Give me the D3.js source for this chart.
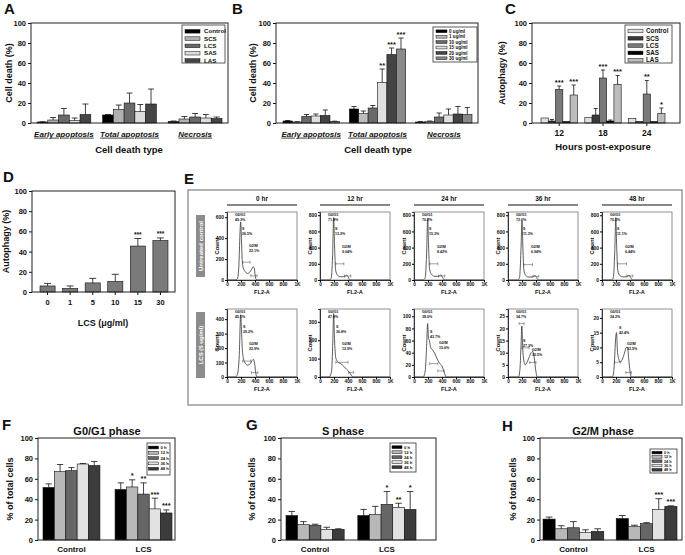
<!DOCTYPE html>
<html lang="en">
<head>
<meta charset="UTF-8">
<title>Cell death, autophagy and cell cycle</title>
<script src="https://d3js.org/d3.v7.min.js"></script>
<style>
  body { margin: 0; background: #fff; }
  svg { display: block; font-family: "Liberation Sans", Arial, sans-serif; font-weight: bold; }
</style>
</head>
<body>
<script>
// ---------- data ----------
const deathTypes = ["Early apoptosis", "Total apoptosis", "Necrosis"];

const extractsA = ["Control", "SCS", "LCS", "SAS", "LAS"];
const meanA = [[1, 3, 8, 2.5, 8.5], [8, 13.5, 20, 11.5, 19], [1.5, 4, 6, 5, 4.5]];
const sdA = [[0.3, 2.5, 6.5, 2.5, 10.5], [0.5, 4.5, 10, 7, 15], [0.5, 2.5, 3.5, 3.5, 1.5]];

const dosesB = ["0 ug/ml", "1 ug/ml", "10 ug/ml", "15 ug/ml", "20 ug/ml", "30 ug/ml"];
const meanB = [[2, 1, 6.5, 7, 7.5, 1.5], [14, 9.5, 15, 40.5, 68.5, 74], [1, 1.5, 6, 8, 9, 8.5]];
const sdB = [[0.5, 0.3, 2, 2, 5.5, 0.3], [2.5, 2.5, 2.5, 13.5, 6.5, 11], [0.5, 0.5, 4, 6, 7.5, 7]];
const starsB = [["", "", "", "", "", ""], ["", "", "", "**", "***", "***"], ["", "", "", "", "", ""]];

const hoursC = ["12", "18", "24"];
const extractsC = ["Control", "SCS", "LCS", "SAS", "LAS"];
const meanC = [[5, 2, 33.5, 1.5, 28], [5.5, 8, 45, 2, 38.5], [4.5, 1.5, 29, 1.5, 9.5]];
const sdC = [[0, 1.5, 3.5, 0, 10], [0, 6.5, 8, 1, 9], [0, 0, 13.5, 0, 5.5]];
const starsC = [["", "", "***", "", "***"], ["", "", "***", "", "***"], ["", "", "**", "", "*"]];

const dosesD = ["0", "1", "5", "10", "15", "30"];
const meanD = [6, 3.5, 9, 10.5, 45.5, 51];
const sdD = [2.5, 2.5, 4.5, 7, 7.5, 2.5];
const starsD = ["", "", "", "", "***", "***"];

const hrLabels = ["0 hr", "12 hr", "24 hr", "36 hr", "48 hr"];
const rowLabels = ["Untreated control", "LCS (5 ug/ml)"];
// FL2-A, count
const curvesUntreated = [
  [[0,0],[120,0],[150,15],[170,140],[185,440],[195,555],[205,420],[215,220],[230,120],[260,80],[290,62],[320,72],[350,100],[372,125],[388,118],[400,60],[412,12],[430,0],[1000,0]],
  [[0,0],[130,0],[160,25],[180,300],[195,770],[208,420],[222,130],[250,60],[300,40],[350,42],[380,60],[400,42],[420,6],[440,0],[1000,0]],
  [[0,0],[130,0],[160,30],[180,320],[195,760],[208,430],[222,140],[250,70],[300,45],[350,45],[385,62],[405,38],[425,6],[445,0],[1000,0]],
  [[0,0],[140,0],[165,30],[185,360],[200,730],[213,390],[228,115],[260,50],[300,35],[350,38],[385,55],[405,40],[425,6],[445,0],[1000,0]],
  [[0,0],[135,0],[162,30],[182,340],[197,770],[210,410],[225,120],[255,55],[300,38],[350,40],[385,58],[405,40],[425,6],[445,0],[1000,0]]
];
const curvesLcs = [
  [[0,0],[120,0],[150,20],[175,150],[195,430],[208,310],[222,170],[250,105],[290,82],[330,90],[360,115],[378,122],[395,92],[410,30],[430,0],[1000,0]],
  [[0,0],[130,0],[165,30],[183,190],[195,345],[207,210],[225,105],[255,82],[300,72],[340,58],[380,42],[420,26],[450,8],[470,0],[1000,0]],
  [[0,0],[130,0],[160,10],[180,50],[195,88],[205,66],[220,60],[240,48],[270,44],[300,38],[330,30],[370,22],[400,18],[430,8],[460,0],[1000,0]],
  [[0,0],[150,0],[170,3],[185,12],[198,21],[210,12],[225,7],[245,5],[270,6],[300,8],[330,10],[355,10.5],[375,8],[395,3],[420,0],[1000,0]],
  [[0,0],[150,0],[175,4],[195,13],[208,15],[220,9],[240,6],[260,5],[290,6],[320,8],[345,10],[365,10],[382,6],[400,2],[420,0],[1000,0]]
];
const yTicksUntreated = [[0,200,400,600],[0,200,400,600,800],[0,200,400,600,800],[0,200,400,600,800],[0,200,400,600,800]];
const yMaxUntreated = [650, 840, 840, 840, 840];
const yTicksLcs = [[0,100,200,300,400],[0,100,200,300],[0,20,40,60,80,100],[0,5,10,15,20,25],[0,5,10,15,20]];
const yMaxLcs = [470, 370, 112, 28, 23];
const pctUntreated = [["49.3%","26.5%","22.1%"],["71.8%","13.2%","9.04%"],["70.2%","15.3%","8.42%"],["72.6%","11.3%","6.94%"],["70.3%","11.1%","6.44%"]];
const pctLcs = [["45.1%","29.2%","22.9%"],["47.9%","36.8%","12.9%"],["38.0%","43.7%","15.6%"],["34.7%","27.3%","30.5%"],["24.2%","42.4%","33.5%"]];
// gates: [from, to, count]
const gatesUntreated = [
  [[225,330,170],[340,430,40]], [[225,340,200],[350,440,50]], [[225,340,200],[350,440,50]],
  [[225,350,190],[355,440,45]], [[225,350,200],[355,440,50]]
];
const gatesLcs = [
  [[225,340,110],[350,440,30]], [[225,400,80],[410,480,25]], [[225,340,22],[340,430,10]],
  [[200,300,12],[310,400,6],[160,230,22]], [[180,260,5],[340,420,1.5]]
];

const timesFGH = ["0 h", "12 h", "24 h", "36 h", "48 h"];
const groupsFGH = ["Control", "LCS"];
const meanF = [[51.5, 67, 68, 74.5, 73], [49.5, 52, 45, 30.5, 26.5]];
const sdF = [[3.5, 7, 3, 0.5, 4], [6.5, 7, 11, 10.5, 3]];
const starsF = [["", "", "", "", ""], ["", "*", "**", "***", "***"]];
const meanG = [[24, 15, 14.5, 10.5, 10.5], [24, 25, 35, 32, 30]];
const sdG = [[4, 3, 1, 2, 0.5], [6, 8, 12.5, 4, 17.5]];
const starsG = [["", "", "", "", ""], ["", "", "*", "**", "*"]];
const meanH = [[20.5, 11, 12, 7.5, 8.5], [21, 13.5, 16, 30, 33]];
const sdH = [[2, 3, 6, 2.5, 2.5], [3, 1, 1, 10.5, 0.5]];
const starsH = [["", "", "", "", ""], ["", "", "", "***", "***"]];

// ---------- drawing ----------
const W = 685, H = 555;
const svg = d3.select("body").append("svg").attr("width", W).attr("height", H);
const ink = "#111";

function letter(t, x, y) {
  svg.append("text").attr("x", x).attr("y", y).attr("font-size", 15).attr("fill", ink).text(t);
}

function legend(o) {
  const g = svg.append("g");
  g.append("rect").attr("x", o.x).attr("y", o.y).attr("width", o.w).attr("height", o.h)
    .attr("fill", "#fff").attr("stroke", "#333").attr("stroke-width", 0.8);
  o.items.forEach((t, i) => {
    const cy = o.y + o.first + i * o.step;
    g.append("rect").attr("x", o.x + o.sx).attr("y", cy - o.sh / 2).attr("width", o.sw).attr("height", o.sh)
      .attr("fill", o.colors[i]).attr("stroke", ink).attr("stroke-width", 0.5);
    g.append("text").attr("x", o.x + o.tx).attr("y", cy).attr("dy", "0.35em")
      .attr("font-size", o.fs).attr("fill", ink).text(t);
  });
}

function barPanel(o) {
  const g = svg.append("g");
  const y = d3.scaleLinear().domain([0, 100]).range([o.bottom, o.top]);
  const x = d3.scaleBand().domain(o.cats).range(o.band).paddingInner(o.pad).paddingOuter(0);
  const xs = d3.scaleBand().domain(o.series).range([0, x.bandwidth()]);
  const bw = xs.bandwidth();
  const rows = [];
  o.cats.forEach((c, i) => o.series.forEach((s, j) => rows.push({
    c, s, j, v: o.values[i][j], e: o.errors[i][j], star: o.stars ? o.stars[i][j] : ""
  })));
  const cx = d => x(d.c) + xs(d.s) + bw / 2;
  const cap = Math.min(bw * 0.55, 7);

  g.selectAll("rect.bar").data(rows).join("rect").attr("class", "bar")
    .attr("x", d => x(d.c) + xs(d.s)).attr("width", bw)
    .attr("y", d => y(d.v)).attr("height", d => y(0) - y(d.v))
    .attr("fill", d => o.colors[d.j]).attr("stroke", ink).attr("stroke-width", 0.6);

  const eb = g.append("g").attr("stroke", ink).attr("stroke-width", 0.8);
  const withErr = rows.filter(d => d.e > 0);
  eb.selectAll("line.v").data(withErr).join("line").attr("class", "v")
    .attr("x1", cx).attr("x2", cx).attr("y1", d => y(d.v)).attr("y2", d => y(d.v + d.e));
  eb.selectAll("line.c").data(withErr).join("line").attr("class", "c")
    .attr("x1", d => cx(d) - cap / 2).attr("x2", d => cx(d) + cap / 2)
    .attr("y1", d => y(d.v + d.e)).attr("y2", d => y(d.v + d.e));

  g.selectAll("text.star").data(rows.filter(d => d.star)).join("text").attr("class", "star")
    .attr("x", cx).attr("y", d => y(d.v + d.e) - 1.5).attr("text-anchor", "middle")
    .attr("font-size", o.starSize || 7.5).attr("fill", ink).text(d => d.star);

  // y axis
  const ya = g.append("g").attr("transform", `translate(${o.left},0)`)
    .call(d3.axisLeft(y).tickValues([0, 20, 40, 60, 80, 100]).tickSize(3).tickPadding(2));
  ya.select(".domain").remove();
  ya.selectAll("line").attr("stroke", ink);
  ya.selectAll("text").attr("font-size", 7.5).attr("fill", ink);

  // x axis
  const xa = g.append("g").attr("transform", `translate(0,${o.bottom})`)
    .call(d3.axisBottom(x).tickSize(o.xTick || 0).tickPadding(o.xPad));
  xa.select(".domain").remove();
  xa.selectAll("line").attr("stroke", ink);
  xa.selectAll("text").attr("font-size", o.xFont).attr("fill", ink);
  if (o.italic) xa.selectAll("text").attr("font-style", "italic").style("text-decoration", "underline");

  // frame
  g.append("rect").attr("x", o.left).attr("y", o.top).attr("width", o.right - o.left)
    .attr("height", o.bottom - o.top).attr("fill", "none").attr("stroke", "#222").attr("stroke-width", 1);

  // titles
  g.append("text").attr("transform", `translate(${o.yTitleX},${(o.top + o.bottom) / 2}) rotate(-90)`)
    .attr("text-anchor", "middle").attr("font-size", 9).attr("fill", ink).text(o.yTitle);
  if (o.xTitle) g.append("text").attr("x", o.xTitleCx).attr("y", o.xTitleY).attr("text-anchor", "middle")
    .attr("font-size", o.xTitleSize || 9.5).attr("fill", ink).text(o.xTitle);
  if (o.title) g.append("text").attr("x", o.titleCx).attr("y", o.top - 3).attr("text-anchor", "middle")
    .attr("font-size", 11).attr("fill", ink).text(o.title);
}

// ---- A ----
const colA = ["#000", "#b0b0b0", "#6a6a6a", "#dcdcdc", "#454545"];
letter("A", 4, 14);
barPanel({ left: 31, right: 228, top: 23, bottom: 123, band: [37, 222], pad: 0.18,
  cats: deathTypes, series: extractsA, values: meanA, errors: sdA, colors: colA,
  xPad: 8, xFont: 8, italic: true, yTitle: "Cell death (%)", yTitleX: 12,
  xTitle: "Cell death type", xTitleCx: 129, xTitleY: 153 });
legend({ x: 182, y: 25, w: 43, h: 38, items: extractsA, colors: colA, first: 6.3, step: 7.3,
  sx: 3, sw: 15, sh: 3.6, tx: 22, fs: 6.2 });

// ---- B ----
const colB = ["#000", "#bcbcbc", "#6a6a6a", "#e0e0e0", "#444", "#8a8a8a"];
letter("B", 232, 14);
barPanel({ left: 276, right: 478, top: 23, bottom: 123, band: [283, 472], pad: 0.15,
  cats: deathTypes, series: dosesB, values: meanB, errors: sdB, stars: starsB, colors: colB,
  xPad: 8, xFont: 8, italic: true, yTitle: "Cell death (%)", yTitleX: 256,
  xTitle: "Cell death type", xTitleCx: 378, xTitleY: 153 });
legend({ x: 433, y: 27, w: 44, h: 35, items: dosesB, colors: colB, first: 4.3, step: 5.4,
  sx: 3, sw: 11, sh: 2.8, tx: 16, fs: 4.6 });

// ---- C ----
const colC = ["#e0e0e0", "#3a3a3a", "#7a7a7a", "#000", "#bdbdbd"];
letter("C", 505, 14);
barPanel({ left: 532, right: 680, top: 23, bottom: 123, band: [541, 665], pad: 0.17,
  cats: hoursC, series: extractsC, values: meanC, errors: sdC, stars: starsC, colors: colC,
  xTick: 3, xPad: 4, xFont: 8.5, yTitle: "Autophagy (%)", yTitleX: 505,
  xTitle: "Hours post-exposure", xTitleCx: 603, xTitleY: 150 });
legend({ x: 625, y: 25, w: 47, h: 38, items: extractsC, colors: colC, first: 6, step: 7.3,
  sx: 3, sw: 15, sh: 3.6, tx: 21, fs: 6.3 });

// ---- D ----
letter("D", 3, 182);
barPanel({ left: 32, right: 175, top: 191, bottom: 292, band: [40, 168], pad: 0.33,
  cats: dosesD, series: ["LCS"], values: meanD.map(v => [v]), errors: sdD.map(v => [v]),
  stars: starsD.map(s => [s]), colors: ["#7a7a7a"], starSize: 6.5,
  xTick: 3, xPad: 5, xFont: 7.5, yTitle: "Autophagy (%)", yTitleX: 9,
  xTitle: "LCS (\u03bcg/ml)", xTitleCx: 103, xTitleY: 326, xTitleSize: 9 });

// ---- E ----
letter("E", 184, 184);
const eBox = { x: 188, y: 190, w: 494, h: 215 };
svg.append("rect").attr("x", eBox.x).attr("y", eBox.y).attr("width", eBox.w).attr("height", eBox.h)
  .attr("fill", "none").attr("stroke", "#8a8a8a").attr("stroke-width", 1.3);

const frameX = [227, 320, 414, 508, 602];
const rowY = [212, 309];
const fw = 70, fh = 68;

hrLabels.forEach((t, i) => {
  svg.append("text").attr("x", frameX[i] + fw / 2).attr("y", 201).attr("text-anchor", "middle")
    .attr("font-size", 6.5).attr("fill", ink).text(t);
  svg.append("line").attr("x1", frameX[i]).attr("x2", frameX[i] + fw).attr("y1", 205).attr("y2", 205)
    .attr("stroke", ink).attr("stroke-width", 1.1);
});

rowLabels.forEach((t, r) => {
  const y0 = rowY[r] + 3, hh = r === 0 ? 62 : 66;
  svg.append("rect").attr("x", 196).attr("y", y0).attr("width", 9).attr("height", hh).attr("fill", "#8c8c8c");
  svg.append("text").attr("transform", `translate(${200.5},${y0 + hh / 2}) rotate(-90)`)
    .attr("text-anchor", "middle").attr("dy", "0.35em").attr("font-size", 6).attr("fill", "#fff").text(t);
});

const annotPos = [
  [[[15, 18], [22, 35]], [[15, 18], [22, 36]], [[15, 18], [23, 36]], [[15, 18], [23, 36]], [[15, 18], [23, 36]]],
  [[[16, 19], [22, 36]], [[16, 19], [22, 36]], [[16, 24], [25, 35]], [[15, 33], [24, 42]], [[17, 20], [25, 36]]]
];

function histCell(r, i, curve, ticks, ymax, pcts, gates) {
  const x0 = frameX[i], y0 = rowY[r];
  const g = svg.append("g");
  const x = d3.scaleLinear().domain([0, 1000]).range([x0, x0 + fw]);
  const y = d3.scaleLinear().domain([0, ymax]).range([y0 + fh, y0]);
  g.append("rect").attr("x", x0).attr("y", y0).attr("width", fw).attr("height", fh)
    .attr("fill", "#fff").attr("stroke", "#777").attr("stroke-width", 0.8);
  g.append("path").datum(curve)
    .attr("d", d3.line().x(d => x(d[0])).y(d => y(d[1])).curve(d3.curveMonotoneX))
    .attr("fill", "none").attr("stroke", "#333").attr("stroke-width", 0.8);
  // gates
  gates.forEach(gt => {
    const gy = y(gt[2]);
    g.append("line").attr("x1", x(gt[0])).attr("x2", x(gt[1])).attr("y1", gy).attr("y2", gy)
      .attr("stroke", "#444").attr("stroke-width", 0.5);
    [gt[0], gt[1]].forEach(v => g.append("line").attr("x1", x(v)).attr("x2", x(v))
      .attr("y1", gy - 1.5).attr("y2", gy + 1.5).attr("stroke", "#444").attr("stroke-width", 0.5));
  });
  const ya = g.append("g").attr("transform", `translate(${x0},0)`)
    .call(d3.axisLeft(y).tickValues(ticks).tickSize(2).tickPadding(1));
  ya.select(".domain").attr("stroke", "#333");
  ya.selectAll("text").attr("font-size", 5).attr("fill", ink);
  const xa = g.append("g").attr("transform", `translate(0,${y0 + fh})`)
    .call(d3.axisBottom(x).tickValues([0, 200, 400, 600, 800, 1000])
      .tickFormat(d => d === 1000 ? "1K" : d).tickSize(2).tickPadding(1));
  xa.select(".domain").attr("stroke", "#333");
  xa.selectAll("text").attr("font-size", 4.8).attr("fill", ink);
  g.append("text").attr("x", x0 + fw / 2).attr("y", y0 + fh + 14).attr("text-anchor", "middle")
    .attr("font-size", 5.6).attr("fill", ink).text("FL2-A");
  g.append("text").attr("transform", `translate(${x0 - 8},${y0 + fh / 2}) rotate(-90)`)
    .attr("text-anchor", "middle").attr("font-size", 5.8).attr("fill", ink).text("Count");
  const ann = [["G0/G1", pcts[0], [8, 4]], ["S", pcts[1], annotPos[r][i][0]], ["G2/M", pcts[2], annotPos[r][i][1]]];
  ann.forEach(a => {
    g.append("text").attr("x", x0 + a[2][0]).attr("y", y0 + a[2][1]).attr("font-size", 3.6).attr("fill", ink).text(a[0]);
    g.append("text").attr("x", x0 + a[2][0]).attr("y", y0 + a[2][1] + 4.5).attr("font-size", 3.6).attr("fill", ink).text(a[1]);
  });
}

curvesUntreated.forEach((c, i) => histCell(0, i, c, yTicksUntreated[i], yMaxUntreated[i], pctUntreated[i], gatesUntreated[i]));
curvesLcs.forEach((c, i) => histCell(1, i, c, yTicksLcs[i], yMaxLcs[i], pctLcs[i], gatesLcs[i]));

// ---- F, G, H ----
const colT = ["#000", "#b8b8b8", "#666", "#e2e2e2", "#3c3c3c"];
letter("F", 2, 430);
barPanel({ left: 38, right: 175, top: 438, bottom: 540, band: [43, 172], pad: 0.21,
  cats: groupsFGH, series: timesFGH, values: meanF, errors: sdF, stars: starsF, colors: colT,
  xTick: 0, xPad: 6, xFont: 8, yTitle: "% of total cells", yTitleX: 13,
  title: "G0/G1 phase", titleCx: 107 });
legend({ x: 147, y: 443, w: 23, h: 32, items: timesFGH, colors: colT, first: 4.5, step: 5.3,
  sx: 1.5, sw: 10, sh: 2.8, tx: 13.5, fs: 4.2 });

letter("G", 246, 430);
barPanel({ left: 281, right: 436, top: 438, bottom: 540, band: [286, 416], pad: 0.19,
  cats: groupsFGH, series: timesFGH, values: meanG, errors: sdG, stars: starsG, colors: colT,
  xTick: 0, xPad: 6, xFont: 8, yTitle: "% of total cells", yTitleX: 255,
  title: "S phase", titleCx: 343 });
legend({ x: 390, y: 443, w: 26, h: 29, items: timesFGH, colors: colT, first: 4.2, step: 5,
  sx: 2, sw: 10, sh: 2.8, tx: 14, fs: 4.2 });

letter("H", 502, 431);
barPanel({ left: 540, right: 682, top: 438, bottom: 540, band: [543, 677], pad: 0.17,
  cats: groupsFGH, series: timesFGH, values: meanH, errors: sdH, stars: starsH, colors: colT,
  xTick: 0, xPad: 6, xFont: 8, yTitle: "% of total cells", yTitleX: 516,
  title: "G2/M phase", titleCx: 603 });
legend({ x: 650, y: 449, w: 27, h: 24, items: timesFGH, colors: colT, first: 3.6, step: 4.3,
  sx: 2, sw: 10, sh: 2.6, tx: 14, fs: 3.8 });
</script>
</body>
</html>
